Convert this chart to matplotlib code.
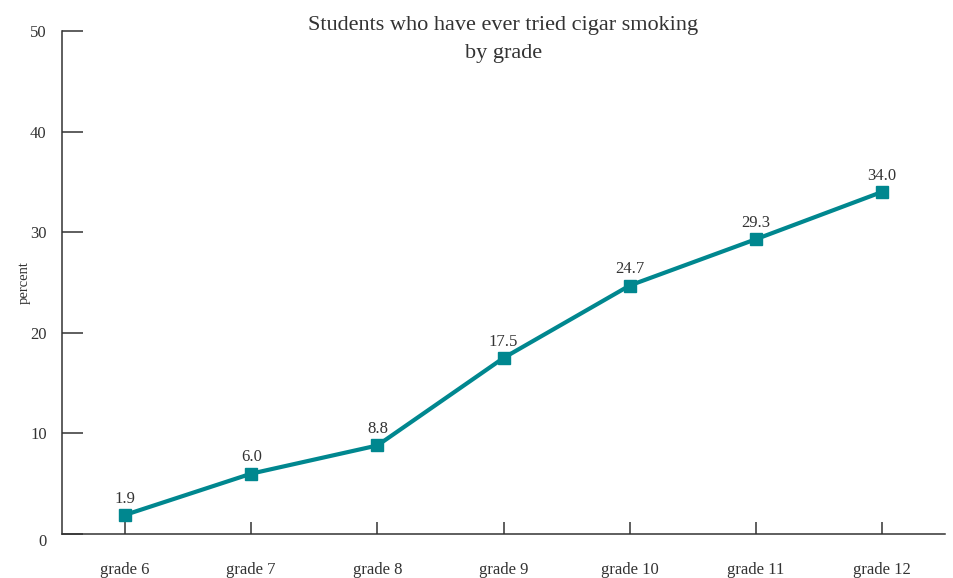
import numpy as np
import matplotlib.pyplot as plt

grades = ["grade 6", "grade 7", "grade 8", "grade 9", "grade 10", "grade 11", "grade 12"]
percent = [1.9, 6.0, 8.8, 17.5, 24.7, 29.3, 34.0]
yticks = [0, 10, 20, 30, 40, 50]

plt.rcParams['font.family'] = ['Liberation Serif', 'DejaVu Serif']
teal = '#00878f'
ink = '#333333'

fig = plt.figure(figsize=(9.54, 5.78), dpi=100)
ax = fig.add_axes([0.065, 0.0761, 0.9256, 0.8703])

x = np.arange(len(grades))
ax.plot(x, percent, color=teal, lw=3, marker='s', ms=8.5, zorder=3)
for xi, v in zip(x, percent):
    ax.annotate(f"{v:.1f}", (xi, v), xytext=(0, 6), textcoords='offset points',
                ha='center', va='bottom', fontsize=12, color=ink)

ax.set_xlim(-0.5, 6.5)
ax.set_ylim(0, 50)
ax.set_xticks(x)
ax.set_xticklabels(grades)
ax.set_yticks(yticks)

for s in ['top', 'right']:
    ax.spines[s].set_visible(False)
for s in ['left', 'bottom']:
    ax.spines[s].set_color(ink)
    ax.spines[s].set_linewidth(1.1)

ax.tick_params(axis='y', direction='in', length=15, width=1.1, color=ink,
               labelsize=12, labelcolor=ink, pad=11)
ax.tick_params(axis='x', direction='in', length=9, width=1.1, color=ink,
               labelsize=12, labelcolor=ink, pad=20)
# the zero label sits a bit below the axis in the original
ax.get_yticklabels()[0].set_va('top')

ax.set_ylabel("percent", fontsize=10.5, color=ink)
ax.yaxis.set_label_coords(-0.035, 0.5)
ax.set_title("Students who have ever tried cigar smoking\nby grade", fontsize=16,
             color=ink, linespacing=1.6, y=0.93)

fig.savefig("out.png", dpi=100)
